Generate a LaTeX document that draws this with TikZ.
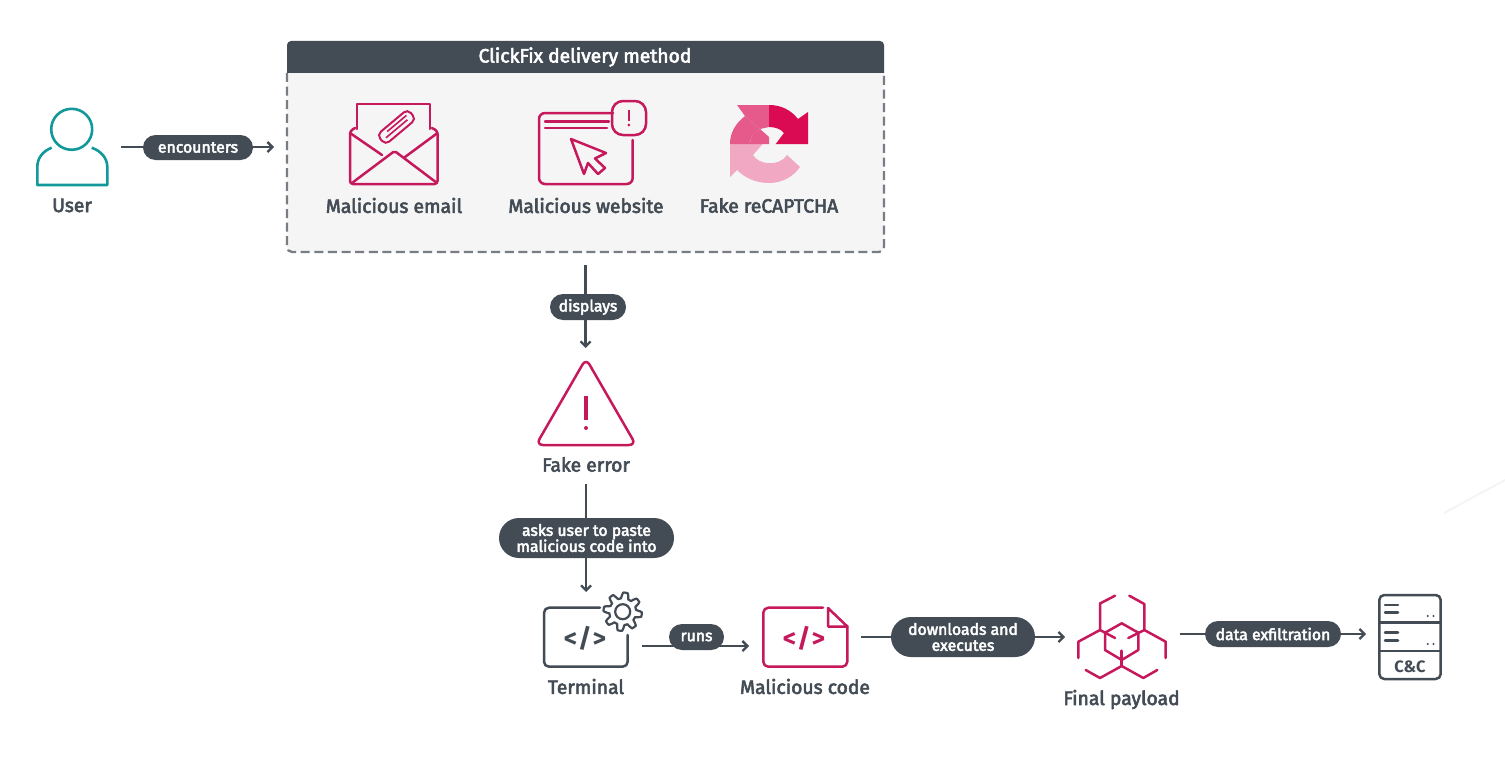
\documentclass[tikz,border=0pt]{standalone}
\usepackage{fontspec}
\usetikzlibrary{arrows.meta,calc}
\setmainfont{Fira Sans}
\newfontfamily\lblfont{Fira Sans}[FakeBold=3]
\definecolor{slate}{HTML}{434C55}
\definecolor{crim}{HTML}{C6195C}
\definecolor{tealx}{HTML}{12989A}
\definecolor{panel}{HTML}{F5F5F6}
\definecolor{dashc}{HTML}{787D83}
\definecolor{rcA}{HTML}{DA0B52}
\definecolor{rcB}{HTML}{E65A8B}
\definecolor{rcC}{HTML}{F1A9C3}
\tikzset{
  lbl/.style={text=slate,inner sep=0pt,font=\lblfont\fontsize{19.3}{22}\selectfont},
  pill/.style={fill=slate,text=white,inner sep=0pt,align=center,font=\lblfont\fontsize{15.8}{16}\selectfont},
  conn/.style={draw=slate,line width=2.6pt,-{Straight Barb[length=5pt,width=10pt,line width=2.3pt]}},
  anchorbox/.style={inner sep=0pt,outer sep=0pt},
  ico/.style={draw=crim,line width=2.5pt,line join=round,line cap=round},
  icodark/.style={draw=slate,line width=2.5pt,line join=round,line cap=round},
  icoteal/.style={draw=tealx,line width=2.6pt,line join=round},
}
\begin{document}
\begin{tikzpicture}[x=1pt,y=-1pt]
\useasboundingbox (0,0) rectangle (1505,760);
\fill[white] (0,0) rectangle (1505,760);
\draw[draw=black!4,line width=2pt] (1444,513) -- (1505,480);

% panel
\fill[panel,rounded corners=5pt] (287,60) rectangle (884,252);
\draw[dashc,line width=2.3pt,dash pattern=on 9pt off 4.6pt,rounded corners=5pt] (287,73) -- (287,252) -- (884,252) -- (884,73);
\fill[slate] (287,73) -- (287,45) arc[start angle=180,end angle=90,radius=4pt] -- (880,41) arc[start angle=90,end angle=0,radius=4pt] -- (884,73) -- cycle;
\node[anchorbox,text=white,font=\lblfont\fontsize{19.3}{22}\selectfont] (title) at (585,57) {ClickFix delivery method};

% invisible anchors that give the connectors their ends
\node[anchorbox,minimum width=98pt,minimum height=20pt] (user) at (72,147) {};
\node[anchorbox,minimum width=623pt,minimum height=224pt] (box) at (585.5,153) {};
\node[anchorbox,minimum width=120pt,minimum height=136pt] (err) at (586,416) {};
\node[anchorbox,minimum width=112pt,minimum height=108pt] (term) at (586,646) {};
\node[anchorbox,minimum width=112pt,minimum height=90pt] (code) at (805,637) {};
\node[anchorbox,minimum width=115pt,minimum height=90pt] (payload) at (1122.5,637) {};
\node[anchorbox,minimum width=88pt,minimum height=84pt] (cc) at (1410,637) {};

% connectors
\draw[conn] (user.east) -- (user.east -| box.west);
\draw[conn] (box.south) -- (box.south |- err.north);
\draw[conn] (err.south) -- (err.south |- term.north);
\draw[conn] (term.east) -- (term.east -| code.west);
\draw[conn] (code.east) -- (code.east -| payload.west);
\coordinate (payR) at ($(payload.east)+(0,-3)$);
\draw[conn] (payR) -- (payR -| cc.west);

% pills
\node[pill,minimum width=110pt,minimum height=25pt,rounded corners=12.5pt] (p1) at (198,147.5) {encounters};
\node[pill,minimum width=76pt,minimum height=26pt,rounded corners=13pt] (p2) at (588,307) {displays};
\node[pill,minimum width=175pt,minimum height=40pt,rounded corners=20pt] (p3) at (586.5,538) {asks user to paste\\malicious code into};
\node[pill,minimum width=55pt,minimum height=26pt,rounded corners=13pt] (p4) at (696.5,637) {runs};
\node[pill,minimum width=144pt,minimum height=40pt,rounded corners=20pt] (p5) at (963,637) {downloads and\\executes};
\node[pill,minimum width=136pt,minimum height=26pt,rounded corners=13pt] (p6) at (1273,634) {data exfiltration};

% user icon
\draw[icoteal] (71.7,129.3) circle[radius=20.5pt];
\draw[icoteal] (51.7,147.7) .. controls (43,151) and (37.3,158) .. (37.3,167) -- (37.3,185) -- (107.3,185) -- (107.3,167) .. controls (107.3,158) and (101,151) .. (91.7,147.7);
\node[lbl] (userl) at (72,205.5) {User};

% email icon
\draw[ico] (357,129) -- (357,104) -- (430,104) -- (430,129);
\draw[ico,rounded corners=3pt] (355,128) -- (350,131) -- (350,184) -- (437.5,184) -- (437.5,131) -- (432,128);
\draw[ico] (350,133) -- (382,155);
\draw[ico] (437.5,133) -- (405,157);
\draw[ico,rounded corners=2pt] (352,183) -- (394.6,151) -- (437,183);
\begin{scope}[shift={(396.5,127)},rotate=40]
  \draw[crim,line width=2pt,rounded corners=5pt] (-20,-6.5) rectangle (20,6.5);
  \draw[crim,line width=1.6pt] (-15,1.5) -- (13,1.5);
  \draw[crim,line width=1.6pt] (-10,-2.5) -- (15,-2.5);
\end{scope}
\node[lbl] (emaill) at (394,205.5) {Malicious email};

% website icon
\draw[ico,rounded corners=6pt] (613,113) -- (539,113) -- (539,184) -- (632.7,184) -- (632.7,140);
\draw[ico] (545,121.5) -- (609,121.5);
\draw[ico] (545,128) -- (607,128);
\draw[ico,rounded corners=11pt] (612,101) rectangle (646,135);
\draw[crim,line width=2.4pt] (628.8,110) -- (628.8,120.5);
\fill[crim] (628.8,125) circle[radius=1.5pt];
\draw[ico] (571,139) -- (606,153) -- (595,158.5) -- (605,168) -- (598,174) -- (588,163) -- (584,174) -- cycle;
\node[lbl] (webl) at (586,205.5) {Malicious website};

% fake recaptcha icon
\fill[rcC] (730,144) -- (762.7,144) -- (753,155) .. controls (758,164) and (778,168) .. (787,155) -- (800,167) .. controls (793,177) and (782,183) .. (769,183) .. controls (756,183) and (745,178) .. (737,170) -- (730,177) -- cycle;
\fill[rcB] (737,105) -- (769,105) -- (769,127) -- (760,129) -- (769,137) -- (769,144) -- (750,144) .. controls (750,138) and (753,132) .. (760,129) -- (745,116) -- cycle;
\fill[rcB] (745,116) .. controls (735,124) and (730,133) .. (730,144) -- (750,144) .. controls (750,138) and (753,132) .. (760,129) -- cycle;
\fill[rcA] (769,105) .. controls (781,105) and (791,110) .. (798,119) -- (808,112) -- (808,144) -- (775.7,144) -- (784,133) .. controls (781,129) and (775,127) .. (769,127) -- cycle;
\node[lbl] (capl) at (769,205.5) {Fake reCAPTCHA};

% fake error icon
\draw[ico,rounded corners=7pt] (586,358.5) -- (636,445) -- (536,445) -- cycle;
\draw[crim,line width=3.4pt] (586,396) -- (586,420);
\fill[crim] (586,428) circle[radius=2pt];
\node[lbl] (errl) at (586,464.5) {Fake error};

% terminal icon
\draw[icodark,rounded corners=5pt] (600,607.7) -- (544,607.7) -- (544,666.7) -- (627.7,666.7) -- (627.7,635);
\draw[slate,line width=2.2pt,line join=round] plot[domain=0:360,samples=240,smooth]
  ({622.7+(16.3+2.9*max(-1,min(1,1.7*sin(8*\x+22))))*cos(\x)},{611.7+(16.3+2.9*max(-1,min(1,1.7*sin(8*\x+22))))*sin(\x)}) -- cycle;
\draw[slate,line width=2.2pt] (622.7,611.7) circle[radius=7.5pt];
\node[anchorbox,text=slate,font=\bfseries\fontsize{26}{26}\selectfont] (termtxt) at (585,638) {<\kern1pt/\kern1pt>};
\node[lbl] (terml) at (586,686.5) {Terminal};

% malicious code icon
\draw[ico,rounded corners=5pt] (823,607.7) -- (763.3,607.7) -- (763.3,666.7) -- (847.3,666.7) -- (847.3,626);
\draw[ico] (828,608) -- (828,626.5) -- (847.3,626.5) -- cycle;
\node[anchorbox,text=crim,font=\bfseries\fontsize{26}{26}\selectfont] (codetxt) at (804,638) {<\kern1pt/\kern1pt>};
\node[lbl] (codel) at (805,686.5) {Malicious code};

% final payload icon
\draw[ico] (1115,595.7) -- (1100,603.5) -- (1100,630) -- (1115,638);
\draw[ico] (1129.3,595.7) -- (1144.3,604) -- (1144.3,630) -- (1128.3,638);
\draw[ico] (1078.3,658) -- (1078.3,641.7) -- (1100,630);
\draw[ico] (1165.7,658) -- (1165.7,641.7) -- (1144.3,630);
\draw[ico] (1085.7,670) -- (1100,678) -- (1121.7,666) -- (1143.3,678) -- (1157.3,670);
\draw[ico] (1121.7,650.7) -- (1121.7,666);
\draw[ico] (1121.7,623.3) -- (1105,632.7) -- (1105,650) -- (1121.7,660) -- (1138.3,650) -- (1138.3,632.7) -- cycle;
\node[lbl] (payl) at (1121.5,699.5) {Final payload};

% C&C icon
\draw[icodark,rounded corners=5pt] (1379.3,595) rectangle (1440.7,679);
\draw[icodark] (1380,622.7) -- (1440,622.7);
\draw[icodark] (1380,651) -- (1440,651);
\draw[icodark] (1385,605) -- (1398,605);
\draw[icodark] (1385,612.3) -- (1398,612.3);
\draw[icodark] (1385,632.7) -- (1398,632.7);
\draw[icodark] (1385,640.7) -- (1398,640.7);
\foreach \px in {1427.7,1433.5}{
  \fill[slate] (\px,616) circle[radius=1.2pt];
  \fill[slate] (\px,644) circle[radius=1.2pt];
}
\node[anchorbox,text=slate,font=\bfseries\fontsize{16.5}{16}\selectfont] (cctxt) at (1410,667) {C\&C};
\end{tikzpicture}
\end{document}
